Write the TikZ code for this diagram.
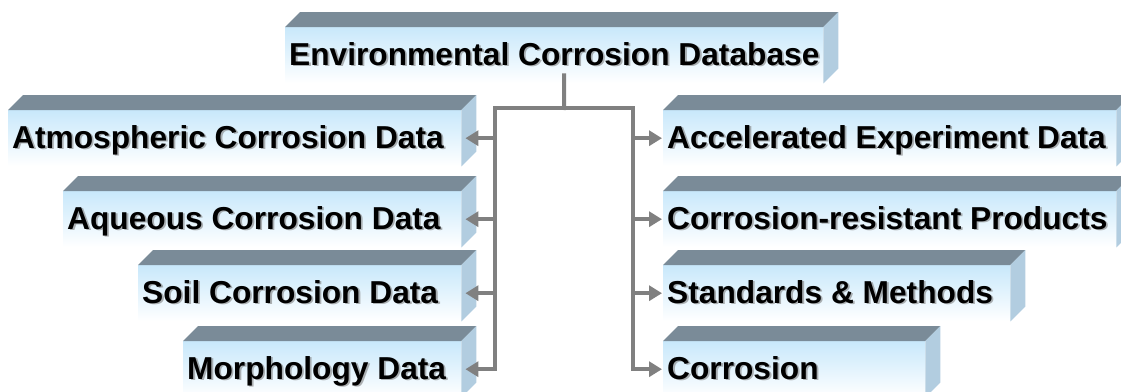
\documentclass[tikz,border=0pt]{standalone}
\usepackage{fontspec}
\setmainfont{Liberation Sans}
\usetikzlibrary{calc,arrows.meta}
\definecolor{fTop}{RGB}{200,232,251}
\definecolor{fMid}{RGB}{212,238,252}
\definecolor{topC}{RGB}{122,139,152}
\definecolor{sideC}{RGB}{178,205,224}
\definecolor{connC}{RGB}{128,128,128}
\newcommand\DrawBlock[4]{%
  \pgfmathsetmacro\bw{#4-#2}%
  \node[front, minimum width=\bw pt, anchor=north west] (#1) at (#2,#3) {};
  \fill[topface] (#1.north west) -- ++(15,-15) -- ($(#1.north east)+(15,-15)$) -- (#1.north east) -- cycle;
  \fill[sideface] (#1.north east) -- ++(15,-15) -- ($(#1.south east)+(15,-15)$) -- (#1.south east) -- cycle;
}
\newcommand\BlockText[2]{%
  \node[shadowtxt] at ($(#1.north west)+(5.8,39.8)$) {#2};
  \node[txt] (#1T) at ($(#1.north west)+(4,38)$) {#2};
}
\begin{document}
\begin{tikzpicture}[x=1pt,y=-1pt,
  front/.style={rectangle, inner sep=0pt, minimum height=56pt,
    top color=fTop, middle color=fMid, bottom color=white},
  topface/.style={fill=topC},
  sideface/.style={fill=sideC},
  txt/.style={anchor=base west, inner sep=0pt, text=black,
    font=\fontsize{31.7}{36}\selectfont\bfseries},
  shadowtxt/.style={txt, text=black!50, opacity=0.6},
  conn/.style={draw=connC, line width=4pt, line cap=rect},
  arr/.style={conn, -{Triangle[length=13pt,width=15pt]}}]
\path[use as bounding box] (0,0) rectangle (1121,391);
\clip (0,0) rectangle (1121,391);
% blocks
\DrawBlock{top}{285}{27}{823}
\DrawBlock{atm}{8}{110}{461}
\DrawBlock{aqu}{63}{191}{461}
\DrawBlock{soil}{138}{265}{461}
\DrawBlock{morph}{183}{341}{461}
\DrawBlock{acc}{663}{110}{1116}
\DrawBlock{cres}{663}{191}{1116}
\DrawBlock{std}{663}{265}{1010}
\DrawBlock{corr}{663}{341}{925}
% texts
\BlockText{top}{Environmental Corrosion Database}
\BlockText{atm}{Atmospheric Corrosion Data}
\BlockText{aqu}{Aqueous Corrosion Data}
\BlockText{soil}{Soil Corrosion Data}
\BlockText{morph}{Morphology Data}
\BlockText{acc}{Accelerated Experiment Data}
\BlockText{cres}{Corrosion-resistant Products}
\BlockText{std}{Standards \& Methods}
\BlockText{corr}{Corrosion}
% connectors
\coordinate (stemTop) at ($(top.south)+(10,-8)$);
\coordinate (jt) at (564,108);
\coordinate (jL) at (495,108);
\coordinate (jR) at (633,108);
\draw[conn] (stemTop) -- (jt);
\draw[conn] (jL |- morph.east) -- (jL) -- (jR) -- (jR |- corr.west);
\foreach \b in {atm,aqu,soil,morph}
  \draw[arr] (jL |- \b.east) -- ([xshift=4pt]\b.east);
\foreach \b in {acc,cres,std,corr}
  \draw[arr] (jR |- \b.west) -- ([xshift=-1pt]\b.west);
\end{tikzpicture}
\end{document}
